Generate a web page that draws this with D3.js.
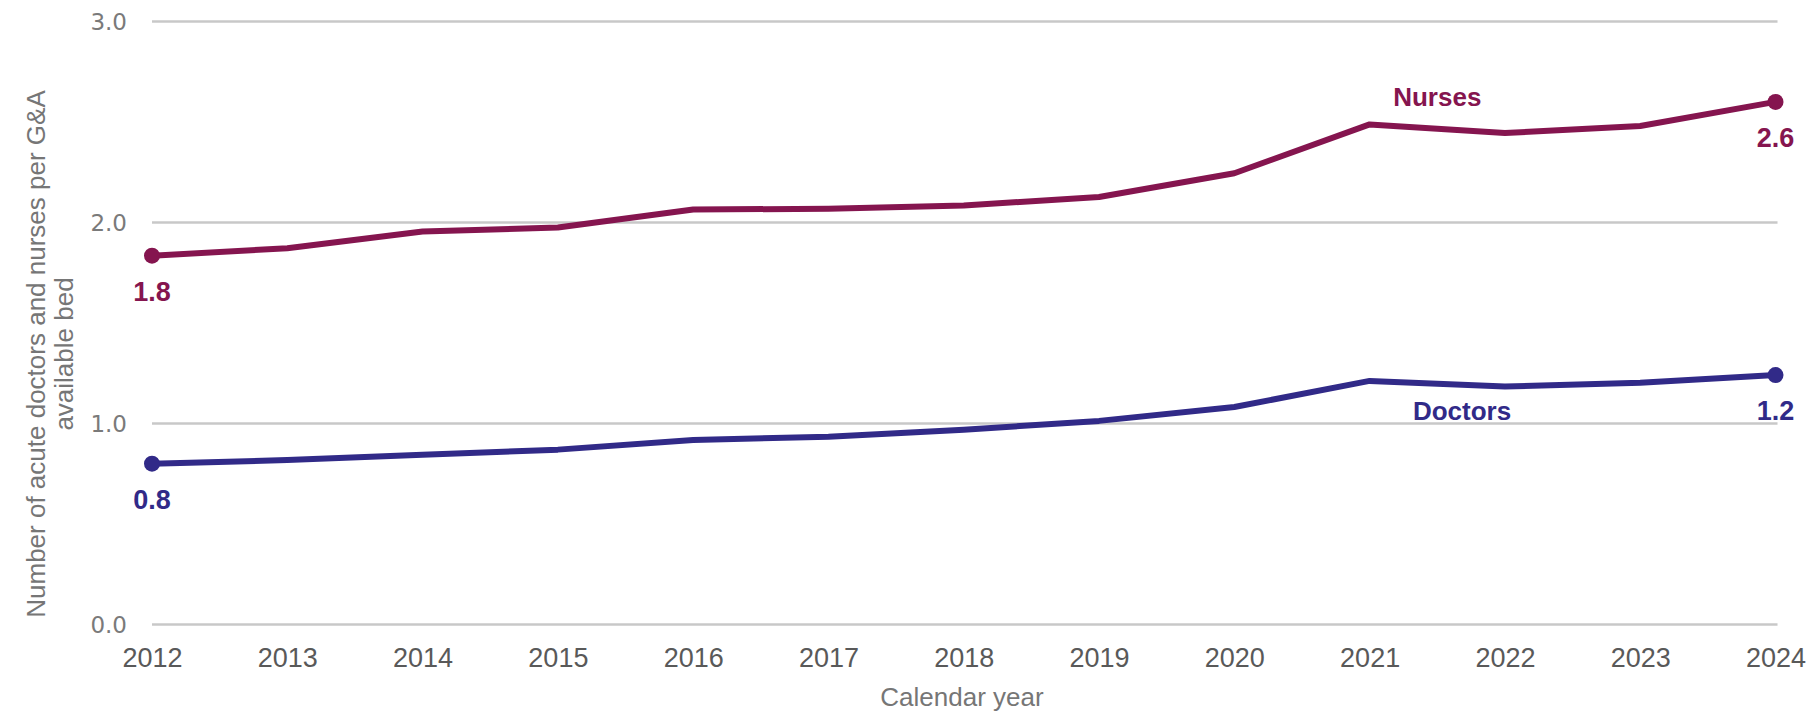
<!DOCTYPE html>
<html>
<head>
<meta charset="utf-8">
<script src="https://cdn.jsdelivr.net/npm/d3@7"></script>
<style>
  html, body { margin: 0; padding: 0; background: #ffffff; }
  svg { display: block; }
</style>
</head>
<body>
<svg id="chart" width="1813" height="715"></svg>
<script>
const years = [2012, 2013, 2014, 2015, 2016, 2017, 2018, 2019, 2020, 2021, 2022, 2023, 2024];
const nurses = [1.835, 1.872, 1.955, 1.975, 2.065, 2.068, 2.085, 2.127, 2.245, 2.488, 2.445, 2.480, 2.600];
const doctors = [0.800, 0.818, 0.845, 0.870, 0.918, 0.934, 0.969, 1.013, 1.082, 1.212, 1.184, 1.203, 1.241];
const yTicks = [0, 1, 2, 3];
const seriesNames = ["Nurses", "Doctors"];
const yTitleLines = ["Number of acute doctors and nurses per G&A", "available bed"];
const xTitle = "Calendar year";

const svg = d3.select("#chart");
const x = d3.scaleLinear().domain([2012, 2024]).range([152, 1775.5]);
const y = d3.scaleLinear().domain([0, 3]).range([624.5, 21.5]);

// gridlines
svg.append("g").selectAll("line").data(yTicks).join("line")
  .attr("x1", x(2012)).attr("x2", x(2024) + 2)
  .attr("y1", d => y(d)).attr("y2", d => y(d))
  .attr("stroke", "#c8c8c8").attr("stroke-width", 2.5);

// y axis labels
const yAxis = d3.axisLeft(y).tickValues(yTicks).tickFormat(d3.format(".1f")).tickSize(0).tickPadding(0);
const gy = svg.append("g").attr("transform", "translate(127,0)").call(yAxis);
gy.select(".domain").remove();
gy.selectAll("text")
  .attr("font-family", "DejaVu Sans, sans-serif")
  .attr("font-size", 23)
  .attr("fill", "#7a7a7a")
  .attr("dy", "0.36em");

// x axis labels
const xAxis = d3.axisBottom(x).tickValues(years).tickFormat(d3.format("d")).tickSize(0).tickPadding(0);
const gx = svg.append("g").attr("transform", "translate(0,648)").call(xAxis);
gx.select(".domain").remove();
gx.selectAll("text")
  .attr("font-family", "Liberation Sans, Arial, sans-serif")
  .attr("font-size", 27)
  .attr("fill", "#595959")
  .attr("dy", "0.72em");

// axis titles
svg.append("text")
  .attr("x", 962).attr("y", 706)
  .attr("text-anchor", "middle")
  .attr("font-family", "Liberation Sans, Arial, sans-serif")
  .attr("font-size", 26)
  .attr("fill", "#767676")
  .text(xTitle);

const yt = svg.append("text")
  .attr("transform", "translate(0,354) rotate(-90)")
  .attr("text-anchor", "middle")
  .attr("font-family", "Liberation Sans, Arial, sans-serif")
  .attr("font-size", 26)
  .attr("fill", "#767676");
yt.selectAll("tspan").data(yTitleLines).join("tspan")
  .attr("x", 0)
  .attr("y", (d, i) => 45 + i * 28)
  .text(d => d);

// lines
const series = [
  { name: seriesNames[0], values: nurses, color: "#85154f" },
  { name: seriesNames[1], values: doctors, color: "#312a88" }
];
const line = d3.line().x((d, i) => x(years[i])).y(d => y(d));

series.forEach(s => {
  svg.append("path")
    .datum(s.values)
    .attr("d", line)
    .attr("fill", "none")
    .attr("stroke", s.color)
    .attr("stroke-width", 6)
    .attr("stroke-linejoin", "round");
  const ends = [0, s.values.length - 1];
  svg.append("g").selectAll("circle").data(ends).join("circle")
    .attr("cx", i => x(years[i]))
    .attr("cy", i => y(s.values[i]))
    .attr("r", 8)
    .attr("fill", s.color);
  svg.append("g").selectAll("text").data(ends).join("text")
    .attr("x", i => x(years[i]))
    .attr("y", i => y(s.values[i]) + 45)
    .attr("text-anchor", "middle")
    .attr("font-family", "Liberation Sans, Arial, sans-serif")
    .attr("font-weight", "bold")
    .attr("font-size", 27)
    .attr("fill", s.color)
    .text(i => d3.format(".1f")(s.values[i]));
});

// series name labels
svg.append("text")
  .attr("x", (x(2021) + x(2022)) / 2).attr("y", 106)
  .attr("text-anchor", "middle")
  .attr("font-family", "Liberation Sans, Arial, sans-serif")
  .attr("font-weight", "bold")
  .attr("font-size", 26)
  .attr("fill", series[0].color)
  .text(seriesNames[0]);

svg.append("text")
  .attr("x", 1462).attr("y", 420)
  .attr("text-anchor", "middle")
  .attr("font-family", "Liberation Sans, Arial, sans-serif")
  .attr("font-weight", "bold")
  .attr("font-size", 26)
  .attr("fill", series[1].color)
  .text(seriesNames[1]);
</script>
</body>
</html>
